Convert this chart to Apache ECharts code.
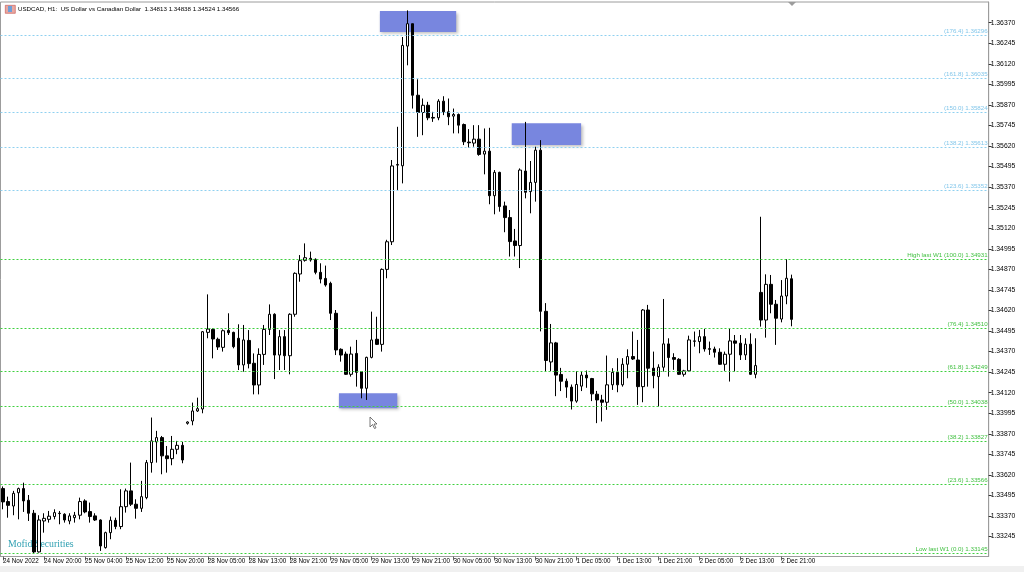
<!DOCTYPE html>
<html>
<head>
<meta charset="utf-8">
<script src="https://cdn.jsdelivr.net/npm/echarts@6/dist/echarts.min.js"></script>
<style>
html,body{margin:0;padding:0;background:#fff;}
#chart{width:1024px;height:572px;}
</style>
</head>
<body>
<div id="chart"></div>
<script>
// ---- trading sessions (day label, first hour, last hour) ----
const sessions = [['24 Nov',12,23],['25 Nov',0,23],['28 Nov',1,23],['29 Nov',0,23],['30 Nov',0,23],['1 Dec',0,23],['2 Dec',0,23]];
// ---- x tick labels (every 8 bars) ----
const xTickLabels = ['24 Nov 2022','24 Nov 20:00','25 Nov 04:00','25 Nov 12:00','25 Nov 20:00','28 Nov 05:00','28 Nov 13:00','28 Nov 21:00','29 Nov 05:00','29 Nov 13:00','29 Nov 21:00','30 Nov 05:00','30 Nov 13:00','30 Nov 21:00','1 Dec 05:00','1 Dec 13:00','1 Dec 21:00','2 Dec 05:00','2 Dec 13:00','2 Dec 21:00'];
// ---- y tick labels ----
const yTicks = [1.36370,1.36245,1.36120,1.35995,1.35870,1.35745,1.35620,1.35495,1.35370,1.35245,1.35120,1.34995,1.34870,1.34745,1.34620,1.34495,1.34370,1.34245,1.34120,1.33995,1.33870,1.33745,1.33620,1.33495,1.33370,1.33245];
// ---- OHLC ----
const opens = [1.33537,1.33458,1.33431,1.33512,1.33537,1.33466,1.33387,1.33152,1.33340,1.33350,1.33367,1.33387,1.33381,1.33340,1.33360,1.33375,1.33462,1.33397,1.33371,1.33346,1.33178,1.33269,1.33344,1.33306,1.33427,1.33523,1.33442,1.33417,1.33482,1.33695,1.33821,1.33847,1.33736,1.33719,1.33776,1.33800,1.33934,1.33948,1.34009,
1.34021,1.34487,1.34505,1.34445,1.34396,1.34499,1.34487,1.34451,1.34289,1.34438,1.34299,1.34167,1.34353,1.34505,1.34597,1.34349,1.34461,1.34345,1.34597,1.34842,1.34925,1.34937,1.34931,1.34852,1.34815,1.34785,1.34603,1.34384,1.34355,1.34232,1.34359,1.34248,1.34147,1.34335,1.34445,1.34414,1.34870,
1.35038,1.35504,
1.35500,1.36228,1.36364,1.35929,1.35824,1.35868,1.35794,1.35792,1.35893,1.35828,1.35802,1.35812,1.35751,1.35644,1.35638,1.35662,1.35571,1.35589,1.35318,1.35460,1.35256,1.35185,1.35043,1.35015,1.35468,1.35343,1.35399,1.35595,1.34615,1.34307,1.34423,1.34231,1.34190,1.34154,1.34069,1.34160,1.34227,1.34206,
1.34111,1.34076,1.34062,1.34168,1.34244,1.34168,1.34293,1.34340,1.34319,1.34157,1.34623,1.34269,1.34218,1.34275,1.34417,1.34334,1.34323,1.34232,1.34253,1.34435,1.34431,1.34461,1.34388,1.34386,1.34366,1.34293,1.34354,1.34435,1.34421,1.34350,1.34415,1.34232,1.34730,1.34562,1.34779,1.34658,1.34568,1.34708,1.34813];
const highs = [1.33550,1.33488,1.33523,1.33543,1.33573,1.33498,1.33407,1.33375,1.33387,1.33401,1.33411,1.33401,1.33387,1.33387,1.33395,1.33482,1.33472,1.33452,1.33387,1.33350,1.33275,1.33367,1.33360,1.33533,1.33537,1.33695,1.33472,1.33584,1.33711,1.33969,1.33888,1.33857,1.33796,1.33857,1.33827,1.33821,1.33946,1.34060,1.34090,
1.34495,1.34718,1.34511,1.34455,1.34505,1.34603,1.34491,1.34536,1.34532,1.34501,1.34359,1.34390,1.34532,1.34657,1.34603,1.34501,1.34501,1.34603,1.34852,1.34957,1.35028,1.34978,1.34937,1.34907,1.34893,1.34795,1.34623,1.34390,1.34370,1.34400,1.34441,1.34252,1.34339,1.34613,1.34582,1.34876,1.35050,
1.35535,1.35737,
1.36283,1.36445,1.36364,1.36026,1.35909,1.35889,1.35828,1.35905,1.35923,1.35909,1.35848,1.35818,1.35757,1.35723,1.35747,1.35747,1.35727,1.35731,1.35474,1.35464,1.35282,1.35231,1.35116,1.35484,1.35767,1.35529,1.35616,1.35656,1.34665,1.34538,1.34429,1.34271,1.34206,1.34170,1.34251,1.34251,1.34255,1.34210,
1.34131,1.34107,1.34346,1.34269,1.34330,1.34330,1.34384,1.34492,1.34441,1.34629,1.34654,1.34370,1.34293,1.34690,1.34451,1.34360,1.34330,1.34259,1.34467,1.34492,1.34502,1.34508,1.34431,1.34400,1.34390,1.34370,1.34512,1.34471,1.34471,1.34451,1.34481,1.34451,1.35190,1.34840,1.34836,1.34684,1.34805,1.34933,1.34838];
const lows = [1.33411,1.33360,1.33375,1.33350,1.33395,1.33340,1.33145,1.33148,1.33269,1.33330,1.33350,1.33320,1.33330,1.33320,1.33330,1.33350,1.33387,1.33330,1.33340,1.33158,1.33172,1.33229,1.33290,1.33290,1.33391,1.33431,1.33354,1.33395,1.33472,1.33634,1.33695,1.33624,1.33634,1.33679,1.33746,1.33691,1.33926,1.33922,1.34003,
1.33995,1.34451,1.34329,1.34380,1.34370,1.34471,1.34390,1.34258,1.34248,1.34268,1.34110,1.34110,1.34289,1.34471,1.34203,1.34258,1.34258,1.34232,1.34582,1.34795,1.34917,1.34917,1.34840,1.34785,1.34765,1.34562,1.34349,1.34309,1.34228,1.34218,1.34157,1.34086,1.34076,1.34329,1.34410,1.34370,1.34816,
1.35018,1.35353,
1.35393,1.36111,1.35848,1.35676,1.35686,1.35777,1.35767,1.35777,1.35808,1.35747,1.35697,1.35697,1.35626,1.35610,1.35616,1.35561,1.35448,1.35266,1.35205,1.35221,1.35096,1.34948,1.34948,1.34878,1.35302,1.35211,1.35282,1.34493,1.34247,1.34251,1.34099,1.34130,1.34089,1.34018,1.34059,1.34130,1.34150,1.34069,
1.33935,1.33945,1.34016,1.34137,1.34123,1.34157,1.34208,1.34319,1.34046,1.34062,1.34157,1.34147,1.34036,1.34249,1.34218,1.34259,1.34228,1.34218,1.34249,1.34400,1.34360,1.34370,1.34350,1.34334,1.34290,1.34253,1.34188,1.34249,1.34319,1.34319,1.34228,1.34208,1.34522,1.34455,1.34603,1.34411,1.34548,1.34658,1.34524];
const closes = [1.33456,1.33435,1.33508,1.33537,1.33462,1.33387,1.33152,1.33346,1.33356,1.33369,1.33391,1.33385,1.33346,1.33371,1.33375,1.33458,1.33395,1.33367,1.33346,1.33188,1.33269,1.33344,1.33306,1.33427,1.33523,1.33442,1.33417,1.33488,1.33695,1.33827,1.33847,1.33736,1.33719,1.33776,1.33800,1.33711,1.33942,1.34009,1.34023,
1.34491,1.34507,1.34447,1.34398,1.34497,1.34485,1.34400,1.34289,1.34441,1.34297,1.34167,1.34353,1.34505,1.34597,1.34349,1.34461,1.34345,1.34597,1.34846,1.34923,1.34941,1.34927,1.34852,1.34811,1.34775,1.34603,1.34380,1.34349,1.34232,1.34355,1.34244,1.34147,1.34335,1.34441,1.34414,1.34870,1.35038,
1.35499,1.35508,
1.36232,1.36364,1.35929,1.35824,1.35868,1.35792,1.35790,1.35893,1.35828,1.35798,1.35812,1.35747,1.35646,1.35640,1.35662,1.35569,1.35589,1.35318,1.35460,1.35252,1.35185,1.35039,1.35015,1.35474,1.35339,1.35399,1.35595,1.34615,1.34316,1.34423,1.34227,1.34190,1.34154,1.34069,1.34170,1.34227,1.34210,1.34113,
1.34076,1.34062,1.34168,1.34244,1.34168,1.34293,1.34340,1.34325,1.34157,1.34623,1.34269,1.34224,1.34275,1.34417,1.34334,1.34323,1.34232,1.34253,1.34441,1.34433,1.34461,1.34386,1.34384,1.34366,1.34293,1.34354,1.34435,1.34421,1.34350,1.34415,1.34232,1.34285,1.34562,1.34779,1.34658,1.34573,1.34708,1.34816,1.34566];
// ---- Fibonacci levels ----
const fibLabels = ['(176.4) 1.36296','(161.8) 1.36035','(150.0) 1.35824','(138.2) 1.35613','(123.6) 1.35352','High last W1 (100.0) 1.34931','(76.4) 1.34510','(61.8) 1.34249','(50.0) 1.34038','(38.2) 1.33827','(23.6) 1.33566','Low last W1 (0.0) 1.33145'];
const fibValues = [1.36296,1.36035,1.35824,1.35613,1.35352,1.34931,1.34510,1.34249,1.34038,1.33827,1.33566,1.33145];
const fibExtension = [true,true,true,true,true,false,false,false,false,false,false,false];
// ---- rectangles: [bar from, bar to, price top, price bottom] ----
const zones = [[73.6,88.5,1.36441,1.36313],[99.35,112.9,1.35758,1.35626],[65.6,77.0,1.34117,1.34026]];
const chartShiftBars = 38;

// ---- build library structures ----
const cats = [];
sessions.forEach(s => { for (let h = s[1]; h <= s[2]; h++) cats.push(s[0] + ' ' + String(h).padStart(2,'0') + ':00'); });
const nBars = cats.length;
for (let i = 0; i < chartShiftBars; i++) cats.push('');
const nSlots = cats.length;
const candles = opens.map((o, i) => [o, closes[i], lows[i], highs[i]]);
const showTick = (i) => i % 8 === 0 && i < nBars;

const blue = '#8fd0f0', green = '#3fd03f';
const fibData = fibValues.map((v, i) => ({
  yAxis: v,
  lineStyle: { color: fibExtension[i] ? blue : green },
  label: { formatter: fibLabels[i], color: fibExtension[i] ? '#82c6ea' : '#3fbf3f' }
}));

const slotW = 5.12;
const gridLeft = 0.5, gridTop = 2, gridBottom = 15.5;
const gridW = slotW * nSlots;
const FONT = 'Liberation Sans, Arial, sans-serif';

const chart = echarts.init(document.getElementById('chart'), null, { renderer: 'canvas' });
chart.setOption({
  animation: false,
  backgroundColor: '#ffffff',
  textStyle: { fontFamily: FONT },
  grid: { left: gridLeft, top: gridTop, width: gridW, bottom: gridBottom, show: true, borderColor: '#9c9c9c', borderWidth: 1, backgroundColor: '#fff' },
  xAxis: [{
    type: 'category', data: cats, boundaryGap: true,
    axisLine: { show: true, onZero: false, lineStyle: { color: '#9c9c9c' } },
    axisTick: { show: true, alignWithLabel: true, interval: (i) => showTick(i), length: 4, lineStyle: { color: '#666' } },
    axisLabel: { interval: (i) => showTick(i), showMinLabel: true, align: 'left', margin: 2, fontSize: 6.3, color: '#000', fontFamily: FONT,
      formatter: (v, i) => showTick(i) ? xTickLabels[i / 8] : '' },
    splitLine: { show: false }
  }, {
    type: 'value', min: -0.5, max: nSlots - 0.5, show: false,
    axisLine: { onZero: false }
  }],
  yAxis: [{
    type: 'value', position: 'right', min: 1.33124, max: 1.36496, scale: true,
    axisLine: { show: true, onZero: false, lineStyle: { color: '#9c9c9c' } },
    axisTick: { show: true, customValues: yTicks, length: 3, lineStyle: { color: '#333' } },
    axisLabel: { customValues: yTicks, formatter: (v) => v.toFixed(5), fontSize: 6.8, color: '#000', margin: 2, fontFamily: FONT },
    splitLine: { show: false }
  }],
  series: [{
    type: 'custom', xAxisIndex: 1, yAxisIndex: 0, z: 1, silent: true,
    data: zones,
    encode: { x: [0, 1], y: [2, 3] },
    renderItem: (params, api) => {
      const p1 = api.coord([api.value(0), api.value(2)]);
      const p2 = api.coord([api.value(1), api.value(3)]);
      return { type: 'rect', shape: { x: p1[0], y: p1[1], width: p2[0] - p1[0], height: p2[1] - p1[1] },
        style: { fill: '#7886df', shadowBlur: 3, shadowColor: 'rgba(0,0,0,0.25)', shadowOffsetX: 1.5, shadowOffsetY: 1.5 } };
    }
  }, {
    type: 'candlestick', z: 3, data: candles, barWidth: 3,
    itemStyle: { color: '#ffffff', color0: '#000000', borderColor: '#000000', borderColor0: '#000000', borderWidth: 1 },
    markLine: {
      silent: true, symbol: ['none', 'none'], animation: false, precision: 5,
      lineStyle: { type: [2, 2], width: 1 },
      label: { position: 'insideEndTop', fontSize: 6.2, distance: [1, 1], fontFamily: FONT },
      data: fibData
    }
  }],
  graphic: [
    { type: 'rect', left: 5, top: 5, shape: { width: 10, height: 8 }, style: { fill: '#e9a7a0', stroke: '#c0504d', lineWidth: 0.6 } },
    { type: 'rect', left: 8, top: 6, shape: { width: 4, height: 6 }, style: { fill: '#6f9fd8' } },
    { type: 'text', left: 18, top: 6, style: { text: 'USDCAD, H1:  US Dollar vs Canadian Dollar  1.34813 1.34838 1.34524 1.34566', fontSize: 6.2, fill: '#000', fontFamily: FONT } },
    { type: 'text', left: 8, top: 539, style: { text: 'Mofid Securities', fontSize: 9.8, fill: '#2fa0b2', fontFamily: 'Liberation Serif, Times New Roman, serif' } },
    { type: 'polygon', shape: { points: [[788, 2], [796, 2], [792, 6]] }, style: { fill: '#9c9c9c' } },
    { type: 'polygon', z: 100, shape: { points: [[370, 417], [370, 427], [372.5, 424.5], [374.5, 428.5], [376, 427.8], [374, 424], [377, 424]] }, style: { fill: '#ffffff', stroke: '#555', lineWidth: 0.8 } },
    { type: 'rect', left: 0, top: 566, shape: { width: 1024, height: 6 }, style: { fill: '#f0f0f0' }, z: -1 }
  ]
});
</script>
</body>
</html>
